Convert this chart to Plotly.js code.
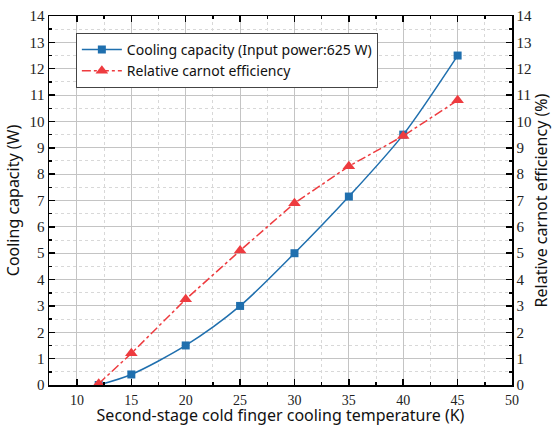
<!DOCTYPE html>
<html>
<head>
<meta charset="utf-8">
<script src="https://cdn.plot.ly/plotly-3.0.1.min.js"></script>
<style>html,body{margin:0;padding:0;background:#fff;}#chart{width:552px;height:426px;}</style>
</head>
<body>
<div id="chart"></div>
<script>
const temperatures = [12, 15, 20, 25, 30, 35, 40, 45];
const coolingCapacity = [0.0, 0.4, 1.5, 3.0, 5.0, 7.15, 9.5, 12.5];
const carnotEfficiency = [0.05, 1.2, 3.25, 5.1, 6.9, 8.3, 9.45, 10.8];
const seriesNames = ["Cooling capacity (Input power:625 W)", "Relative carnot efficiency"];
const xTickVals = [10, 15, 20, 25, 30, 35, 40, 45, 50];
const yTickVals = [0,1,2,3,4,5,6,7,8,9,10,11,12,13,14];

const blue = '#1f6fae';
const red = '#ee3b3f';
const tickFont = {family: 'Liberation Serif, DejaVu Serif, serif', size: 15, color: '#222'};
const xTickFont = {family: 'Liberation Serif, DejaVu Serif, serif', size: 14, color: '#222'};
const titleFont = {family: 'Noto Sans, DejaVu Sans, sans-serif', size: 16, color: '#111'};

const traces = [
  {x: temperatures, y: coolingCapacity, name: seriesNames[0], type: 'scatter', mode: 'lines+markers',
   line: {color: blue, width: 1.5, shape: 'spline', smoothing: 0.8},
   marker: {symbol: 'square', size: 8, color: blue}, yaxis: 'y'},
  {x: temperatures, y: carnotEfficiency, name: seriesNames[1], type: 'scatter', mode: 'lines+markers',
   line: {color: red, width: 1.5, dash: 'dashdot'},
   marker: {symbol: 'triangle-up', size: 11, color: red}, yaxis: 'y2'}
];

const commonAxis = {
  showline: true, linecolor: '#000', linewidth: 1.5,
  ticks: 'inside', ticklen: 6, tickwidth: 1.5, tickcolor: '#000',
  showgrid: true, gridcolor: '#c4c4c4', gridwidth: 1,
  zeroline: false, tickfont: tickFont
};

const layout = {
  width: 552, height: 426,
  margin: {l: 49, r: 40, t: 16, b: 41},
  paper_bgcolor: '#fff', plot_bgcolor: '#fff',
  showlegend: true,
  legend: {x: 0.058, y: 0.954, xanchor: 'left', yanchor: 'top',
           bgcolor: '#fff', bordercolor: '#444', borderwidth: 1,
           font: {family: 'Noto Sans, DejaVu Sans, sans-serif', size: 14, color: '#111'},
           tracegroupgap: 0, itemwidth: 40},
  xaxis: Object.assign({}, commonAxis, {
    range: [7.43, 50], tickvals: xTickVals, mirror: 'ticks', tickfont: xTickFont, ticklabelstandoff: 2,
    minor: {dtick: 2.5, tick0: 0, ticks: 'inside', ticklen: 3, tickcolor: '#000', showgrid: true, gridcolor: '#d8d8d8', griddash: 'dot', gridwidth: 1},
    title: {text: 'Second-stage cold finger cooling temperature (K)', font: titleFont, standoff: 1}
  }),
  yaxis: Object.assign({}, commonAxis, {
    range: [0, 14], tickvals: yTickVals, mirror: 'ticks',
    minor: {dtick: 0.5, tick0: 0, ticks: 'inside', ticklen: 3, tickcolor: '#000', showgrid: true, gridcolor: '#d8d8d8', griddash: 'dot', gridwidth: 1},
    title: {text: 'Cooling capacity (W)', font: titleFont, standoff: 6}
  }),
  yaxis2: Object.assign({}, commonAxis, {
    range: [0, 14], tickvals: yTickVals, overlaying: 'y', side: 'right', showgrid: false,
    minor: {dtick: 0.5, tick0: 0, ticks: 'inside', ticklen: 3, tickcolor: '#000'},
    title: {text: 'Relative carnot efficiency (%)', font: titleFont, standoff: 6}
  })
};

Plotly.newPlot('chart', traces, layout, {displayModeBar: false, staticPlot: true});
</script>
</body>
</html>
